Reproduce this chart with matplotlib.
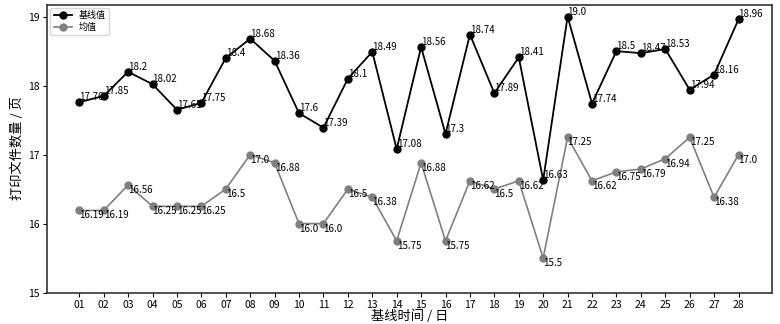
import matplotlib
matplotlib.use("Agg")
import matplotlib.pyplot as plt

plt.rcParams['font.family'] = ['Noto Sans CJK SC', 'DejaVu Sans']
plt.rcParams['axes.unicode_minus'] = False

days = ["01", "02", "03", "04", "05", "06", "07", "08", "09", "10",
        "11", "12", "13", "14", "15", "16", "17", "18", "19", "20",
        "21", "22", "23", "24", "25", "26", "27", "28"]
baseline = [17.76, 17.85, 18.2, 18.02, 17.65, 17.75, 18.4, 18.68, 18.36, 17.6,
            17.39, 18.1, 18.49, 17.08, 18.56, 17.3, 18.74, 17.89, 18.41, 16.63,
            19.0, 17.74, 18.5, 18.47, 18.53, 17.94, 18.16, 18.96]
mean = [16.19, 16.19, 16.56, 16.25, 16.25, 16.25, 16.5, 17.0, 16.88, 16.0,
        16.0, 16.5, 16.38, 15.75, 16.88, 15.75, 16.62, 16.5, 16.62, 15.5,
        17.25, 16.62, 16.75, 16.79, 16.94, 17.25, 16.38, 17.0]

fig = plt.figure(figsize=(7.8, 3.24), dpi=100)
ax = fig.add_axes([0.060, 0.097, 0.930, 0.889])

x = list(range(len(days)))
ax.plot(x, baseline, color='black', marker='o', markersize=5, linewidth=1.3, label='基线值')
ax.plot(x, mean, color='gray', marker='o', markersize=5, linewidth=1.2, label='均值')

for xi, v in zip(x, baseline):
    ax.text(xi, v, str(v), ha='left', va='bottom', fontsize=7, color='black')
for xi, v in zip(x, mean):
    ax.text(xi, v, str(v), ha='left', va='top', fontsize=7, color='black')

ax.set_xticks(x)
ax.set_xticklabels(days)
ax.set_xlim(-1.33, len(days) - 1 + 1.38)
ax.set_ylim(15, 19.175)
ax.set_yticks([15, 16, 17, 18, 19])
ax.tick_params(labelsize=7.5, length=3, pad=2)
ax.set_xlabel('基线时间 / 日', fontsize=9.5, labelpad=0)
ax.set_ylabel('打印文件数量 / 页', fontsize=9.5, labelpad=3)
for s in ax.spines.values():
    s.set_color('#333333')
    s.set_linewidth(1.2)

ax.legend(loc='upper left', fontsize=6.5, handlelength=2.0, borderpad=0.35,
          labelspacing=0.3, fancybox=True, borderaxespad=0.4)

fig.savefig('out.png', dpi=100)
